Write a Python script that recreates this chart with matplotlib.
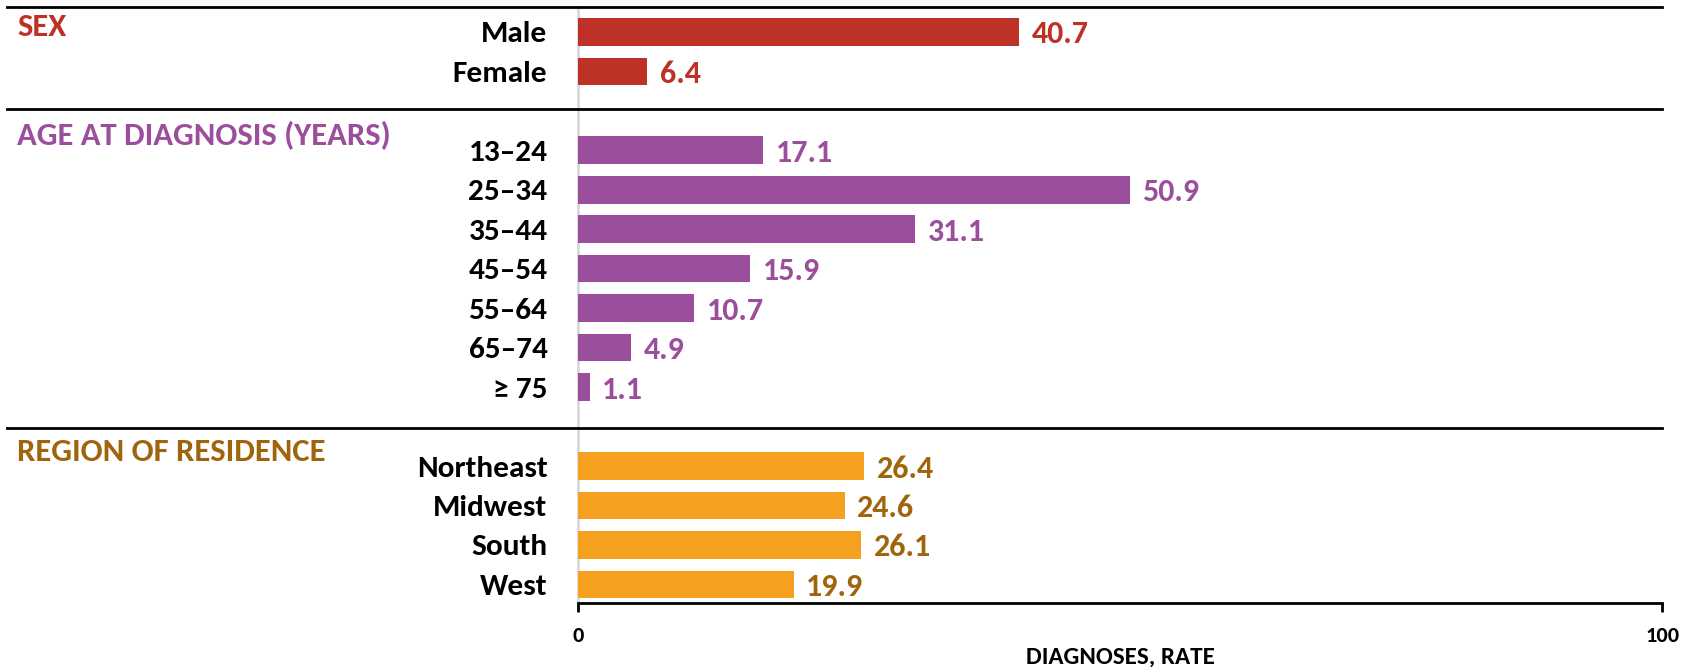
import matplotlib
matplotlib.use('Agg')
import matplotlib.pyplot as plt

plt.rcParams['font.family'] = ['Carlito', 'DejaVu Sans']
plt.rcParams['font.weight'] = 'bold'

# data
sex_labels = ['Male', 'Female']
sex_values = [40.7, 6.4]
age_labels = ['13\u201324', '25\u201334', '35\u201344', '45\u201354', '55\u201364', '65\u201374', '\u2265 75']
age_values = [17.1, 50.9, 31.1, 15.9, 10.7, 4.9, 1.1]
region_labels = ['Northeast', 'Midwest', 'South', 'West']
region_values = [26.4, 24.6, 26.1, 19.9]
section_titles = ['SEX', 'AGE AT DIAGNOSIS (YEARS)', 'REGION OF RESIDENCE']

bar_colors = ['#BE3126', '#9B4E9B', '#F5A11F']
text_colors = ['#BE3126', '#9B4E9B', '#A0650C']

fig = plt.figure(figsize=(16.85, 6.67), dpi=100)
ax = fig.add_axes([0.343, 0.096, 0.6435, 0.8935])

groups = [(sex_labels, sex_values), (age_labels, age_values), (region_labels, region_values)]
starts = [0, 3, 11]
header_y = [0.1, 2.86, 10.87]  # baselines

ticks = []
ticklabels = []
for gi, ((labels, values), start) in enumerate(zip(groups, starts)):
    ys = [start + i for i in range(len(values))]
    ax.barh(ys, values, height=0.7, color=bar_colors[gi], zorder=3)
    for y, v in zip(ys, values):
        ax.annotate(f'{v:.1f}', (v, y), xytext=(9, 0), textcoords='offset points',
                    va='center_baseline', ha='left', fontsize=23, color=text_colors[gi],
                    fontweight='bold')
    ticks += ys
    ticklabels += labels
    # section header
    ax.text(-0.517, header_y[gi], section_titles[gi], transform=ax.get_yaxis_transform(),
            ha='left', va='baseline', fontsize=23.5, color=text_colors[gi], fontweight='bold')

ax.set_yticks(ticks)
ax.set_yticklabels(ticklabels, fontsize=22.5, fontweight='bold')
ax.tick_params(axis='y', length=0, pad=22)

ax.set_xlim(0, 100)
ax.set_ylim(14.47, -0.63)
ax.set_xticks([0, 100])
ax.set_xticklabels(['0', '100'], fontsize=16, fontweight='bold')
ax.tick_params(axis='x', length=6.5, width=2, pad=10)

for sp in ['top', 'right']:
    ax.spines[sp].set_visible(False)
ax.spines['left'].set_color('#D9D9D9')
ax.spines['left'].set_linewidth(2)
ax.spines['bottom'].set_linewidth(2)

# separator lines
for y in [-0.63, 1.95, 10.03]:
    ax.axhline(y, xmin=-0.527, xmax=1.0, color='black', lw=2, clip_on=False, zorder=4)

ax.text(0.5, -0.0872, 'DIAGNOSES, RATE', transform=ax.transAxes,
        ha='center', va='center_baseline', fontsize=18, fontweight='bold')

fig.savefig('out.png', dpi=100)
